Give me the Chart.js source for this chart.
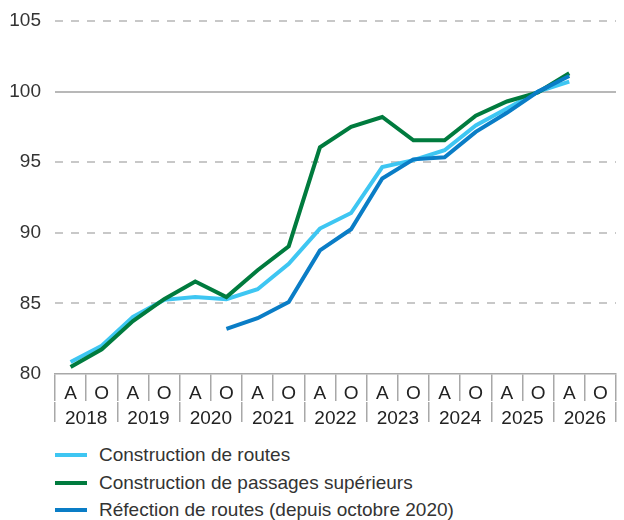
<!DOCTYPE html>
<html><head><meta charset="utf-8">
<script src="https://cdn.jsdelivr.net/npm/chart.js@4"></script>
<style>
body{margin:0;background:#fff;font-family:"Liberation Sans",Arial,sans-serif;}
#wrap{position:relative;width:624px;height:520px;}
#cw{position:absolute;left:0;top:0;width:624px;height:426px;}
.leg{position:absolute;left:55px;height:28px;display:flex;align-items:center;font-size:19px;color:#333;white-space:nowrap;}
.sw{width:32px;height:4px;margin-right:12px;}
</style></head>
<body><div id="wrap"><div id="cw"><canvas id="c"></canvas></div><div id="legend"></div></div>
<script>
const categories = ["A","O","A","O","A","O","A","O","A","O","A","O","A","O","A","O","A","O"];
const years = ["2018","2019","2020","2021","2022","2023","2024","2025","2026"];
const seriesNames = ["Construction de routes","Construction de passages supérieurs","Réfection de routes (depuis octobre 2020)"];
const seriesColors = ["#3EC6F2","#007B3E","#0A7DC6"];
const routes = [80.85,82.0,84.05,85.25,85.45,85.3,86.0,87.8,90.3,91.4,94.65,95.15,95.85,97.6,98.8,100.0,100.7,null];
const passages = [80.5,81.75,83.75,85.3,86.55,85.45,87.35,89.05,96.05,97.5,98.2,96.55,96.55,98.3,99.3,99.95,101.3,null];
const refection = [null,null,null,null,null,83.2,83.95,85.1,88.75,90.25,93.85,95.2,95.35,97.15,98.5,100.0,101.1,null];
const yMin = 80, yMax = 105, yStep = 5;

const FONT = {family:'"Liberation Sans", Arial, sans-serif', size:19};
const seriesData = [routes, passages, refection];
const drawOrder = [2,1,0];

const datasets = seriesData.map((d,i)=>({
  label: seriesNames[i], data: d, borderColor: seriesColors[i], backgroundColor: seriesColors[i],
  borderWidth: 4, pointRadius: 0, tension: 0, borderCapStyle:'butt', borderJoinStyle:'miter',
  fill:false, order: drawOrder[i], spanGaps:false
}));

new Chart(document.getElementById('c'), {
  type:'line',
  data:{labels: categories, datasets},
  options:{
    responsive:true, maintainAspectRatio:false, animation:false,
    layout:{padding:{top:21,right:8,bottom:2,left:0}},
    plugins:{legend:{display:false}, tooltip:{enabled:false}},
    scales:{
      y:{
        min:yMin, max:yMax,
        ticks:{stepSize:yStep, padding:14, color:'#333', font:FONT},
        grid:{drawTicks:false, lineWidth:2,
          color:c=>{const v=c.tick?c.tick.value:null; if(v===yMin) return 'rgba(0,0,0,0)'; return v===100?'#b8b8b8':'#c8c8c8';}},
        border:{display:false, dash:c=>(c.tick && c.tick.value===100)?[]:[8,8]},
        afterFit:s=>{s.width=55; s.paddingTop=0; s.paddingBottom=0;}
      },
      x:{
        type:'category', offset:true,
        grid:{offset:true, drawOnChartArea:false, tickLength:27, color:'#a8a8a8', lineWidth:1.5},
        border:{display:true, color:'#a8a8a8', width:1.5},
        ticks:{padding:-19, autoSkip:false, maxRotation:0, color:'#222', font:FONT},
        afterFit:s=>{s.height=28; s.paddingLeft=0; s.paddingRight=0;}
      },
      x2:{
        type:'category', labels: years, offset:true, position:'bottom',
        grid:{offset:true, drawOnChartArea:false, tickLength:20, color:'#a8a8a8', lineWidth:1.5},
        border:{display:false},
        ticks:{padding:-15, autoSkip:false, maxRotation:0, color:'#222', font:FONT},
        afterFit:s=>{s.height=22; s.paddingLeft=0; s.paddingRight=0;}
      }
    }
  }
});

const leg = document.getElementById('legend');
const rowCenters = [455,483,510];
seriesNames.forEach((n,i)=>{
  const r = document.createElement('div');
  r.className='leg'; r.style.top=(rowCenters[i]-14)+'px';
  const sw=document.createElement('span'); sw.className='sw'; sw.style.background=seriesColors[i];
  const t=document.createElement('span'); t.textContent=n;
  r.appendChild(sw); r.appendChild(t); leg.appendChild(r);
});
</script>
</body></html>
